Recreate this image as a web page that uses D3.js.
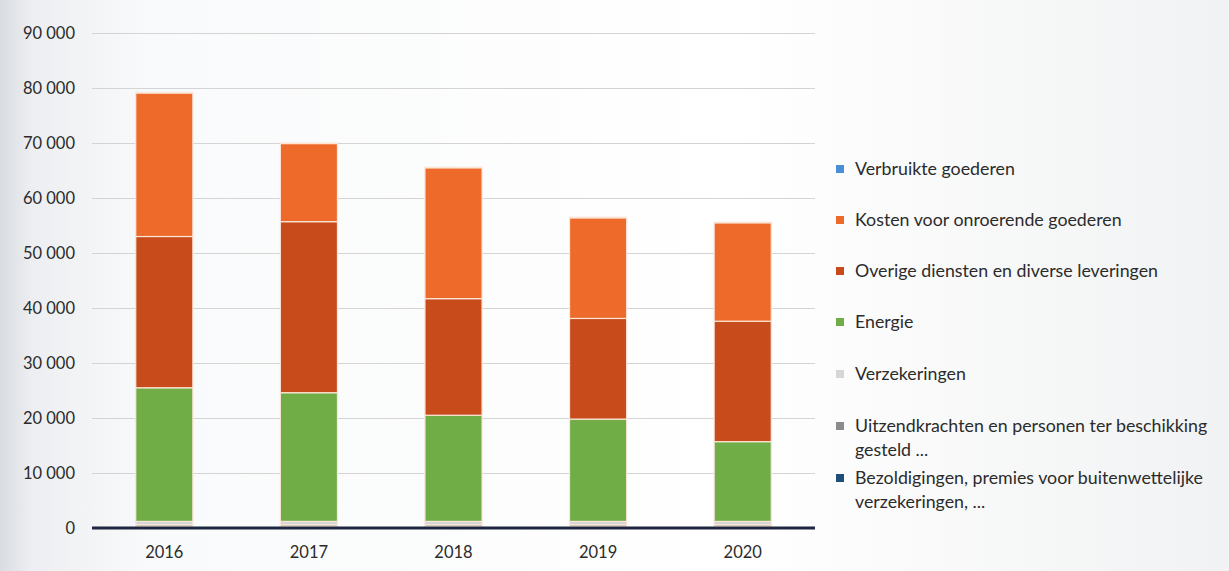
<!DOCTYPE html>
<html>
<head>
<meta charset="utf-8">
<script src="https://cdn.jsdelivr.net/npm/d3@7"></script>
<style>
  html, body { margin: 0; padding: 0; background: #fff; }
  svg { display: block; }
</style>
</head>
<body>
<svg id="chart" width="1229" height="571"></svg>
<script>
// ---- data ----
const years = ["2016", "2017", "2018", "2019", "2020"];
// stacked bottom -> top
const seriesNames = [
  "Bezoldigingen, premies voor buitenwettelijke verzekeringen, ...",
  "Uitzendkrachten en personen ter beschikking gesteld ...",
  "Verzekeringen",
  "Energie",
  "Overige diensten en diverse leveringen",
  "Kosten voor onroerende goederen",
  "Verbruikte goederen"
];
const bezoldigingen   = [300, 300, 300, 300, 300];
const uitzendkrachten = [300, 300, 300, 300, 300];
const verzekeringen   = [600, 600, 600, 600, 600];
const energie         = [24300, 23400, 19300, 18600, 14500];
const overige         = [27500, 31100, 21200, 18300, 21900];
const kosten          = [26100, 14200, 23800, 18300, 17900];
const verbruikte      = [100, 100, 100, 100, 100];
const yTicks = [0, 10000, 20000, 30000, 40000, 50000, 60000, 70000, 80000, 90000];
// legend lines (top -> bottom, wrapped as in the reference)
const legendLines = [
  ["Verbruikte goederen"],
  ["Kosten voor onroerende goederen"],
  ["Overige diensten en diverse leveringen"],
  ["Energie"],
  ["Verzekeringen"],
  ["Uitzendkrachten en personen ter beschikking", "gesteld ..."],
  ["Bezoldigingen, premies voor buitenwettelijke", "verzekeringen, ..."]
];

// ---- styles ----
const colors = ["#1f4e79", "#8c8c8c", "#d6d6d6", "#70ad47", "#c84b1b", "#ee6a2a", "#4a8fd6"];
const legendColors = ["#4a8fd6", "#ee6a2a", "#c84b1b", "#70ad47", "#d6d6d6", "#8c8c8c", "#1f4e79"];

const valuesBySeries = [bezoldigingen, uitzendkrachten, verzekeringen, energie, overige, kosten, verbruikte];
const table = years.map((y, i) => {
  const row = { year: y };
  seriesNames.forEach((s, j) => row[s] = valuesBySeries[j][i]);
  return row;
});

const svg = d3.select("#chart");
const W = 1229, H = 571;

// background resembling the photographed slide
const defs = svg.append("defs");
const bg = defs.append("linearGradient").attr("id", "bg").attr("x1", "0").attr("x2", "1").attr("y1", "0").attr("y2", "0");
bg.append("stop").attr("offset", "0%").attr("stop-color", "#d9dce1");
bg.append("stop").attr("offset", "2.5%").attr("stop-color", "#eceef1");
bg.append("stop").attr("offset", "12%").attr("stop-color", "#f9fafb");
bg.append("stop").attr("offset", "60%").attr("stop-color", "#ffffff");
bg.append("stop").attr("offset", "100%").attr("stop-color", "#f1f2f3");
svg.append("rect").attr("width", W).attr("height", H).attr("fill", "url(#bg)");

const margin = { left: 92, right: 815, top: 33, bottom: 528 };
const x = d3.scaleBand().domain(years).range([margin.left, margin.right])
  .paddingInner(0.605).paddingOuter(0.3025);
const y = d3.scaleLinear().domain([0, 90000]).range([margin.bottom, margin.top]);

// gridlines
const grid = svg.append("g")
  .attr("transform", `translate(${margin.left},0)`)
  .call(d3.axisLeft(y).tickValues(yTicks.filter(t => t > 0)).tickSize(-(margin.right - margin.left)).tickFormat(""));
grid.select(".domain").remove();
grid.selectAll("line").attr("stroke", "#d4d4d4").attr("stroke-width", 1);

// y labels
const fmt = v => v === 0 ? "0" : d3.format(",")(v).replace(/,/g, " ");
const yAxis = svg.append("g")
  .attr("transform", `translate(${margin.left},0)`)
  .call(d3.axisLeft(y).tickValues(yTicks).tickSize(0).tickPadding(17).tickFormat(fmt));
yAxis.select(".domain").remove();
yAxis.selectAll("text").attr("font-family", "Lato, 'Open Sans', sans-serif")
  .attr("font-size", 16.5).attr("fill", "#2b2b2b");

// stacked bars
const stack = d3.stack().keys(seriesNames);
const layers = stack(table);
svg.append("g").selectAll("g").data(layers).join("g")
  .attr("fill", (d, i) => colors[i])
  .selectAll("rect").data(d => d).join("rect")
  .attr("x", d => x(d.data.year))
  .attr("width", x.bandwidth())
  .attr("y", d => y(d[1]))
  .attr("height", d => Math.max(0, y(d[0]) - y(d[1])))
  .attr("stroke", "#fbe6d8").attr("stroke-width", 1.2);

// x axis
const xAxis = svg.append("g")
  .attr("transform", `translate(0,${margin.bottom})`)
  .call(d3.axisBottom(x).tickSize(0).tickPadding(18));
xAxis.select(".domain").attr("stroke", "#1e2740").attr("stroke-width", 3)
  .attr("d", `M${margin.left},0H${margin.right}`);
xAxis.selectAll("text").attr("font-family", "Lato, 'Open Sans', sans-serif")
  .attr("font-size", 16.5).attr("fill", "#2b2b2b");

// legend
const legendY = [169, 220, 271, 322, 374, 426, 478];
const lg = svg.append("g").attr("font-family", "Lato, 'Open Sans', sans-serif").attr("font-size", 17.8).attr("fill", "#2b2b2b");
legendLines.forEach((lines, i) => {
  const g = lg.append("g").attr("transform", `translate(836,${legendY[i]})`);
  g.append("rect").attr("x", 0).attr("y", -4).attr("width", 8).attr("height", 8).attr("fill", legendColors[i]);
  lines.forEach((t, k) => {
    g.append("text").attr("x", 19).attr("y", k * 24).attr("dy", "0.35em").text(t);
  });
});
</script>
</body>
</html>
